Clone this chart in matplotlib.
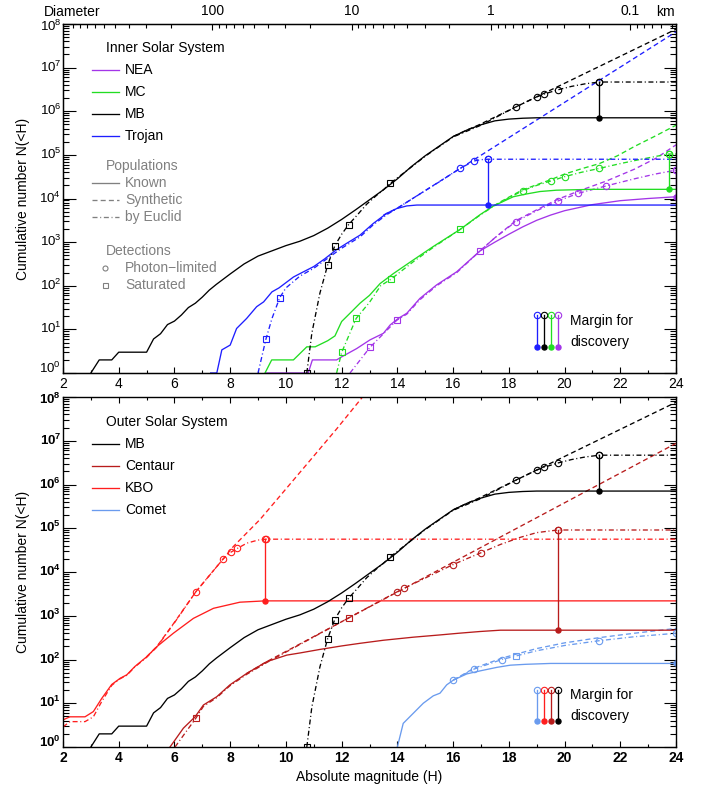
import numpy as np
import matplotlib
matplotlib.use('Agg')
import matplotlib.pyplot as plt
from matplotlib.ticker import FixedLocator, FixedFormatter, NullFormatter
from matplotlib import transforms as mtrans

plt.rcParams['font.family'] = ['Liberation Sans', 'DejaVu Sans']
plt.rcParams['mathtext.fontset'] = 'custom'
plt.rcParams['mathtext.rm'] = 'Liberation Sans'
plt.rcParams['mathtext.bf'] = 'Liberation Sans:bold'
plt.rcParams['mathtext.it'] = 'Liberation Sans:italic'
plt.rcParams['font.size'] = 10

# ---------------- colours ----------------
C_NEA = '#A335E8'
C_MC = '#22DD22'
C_MB = '#000000'
C_TRO = '#1E1EFF'
C_CEN = '#B81C1C'
C_KBO = '#FF1E1E'
C_COM = '#6A9BEE'
GRAY = '#808080'

# ---------------- data (H, log10 N) ----------------
# Main Belt (both panels)
mb_known_H = [3.0, 3.3, 3.75, 4.0, 5.0, 5.25, 5.5, 5.75, 6.0, 6.25, 6.5, 6.75, 7.0, 7.25, 7.5, 8.0, 8.5, 9.0, 9.5,
              10.0, 10.5, 11.0, 11.5, 12.0, 12.5, 13.0, 13.5, 14.0, 14.5, 15.0, 15.5, 16.0, 16.5, 17.0, 17.5,
              18.0, 18.5, 19.0, 24.0]
mb_known_logN = [0.0, 0.30, 0.30, 0.477, 0.477, 0.78, 0.9, 1.11, 1.19, 1.33, 1.5, 1.6, 1.74, 1.9, 2.03, 2.27, 2.5,
                 2.68, 2.8, 2.92, 3.02, 3.15, 3.32, 3.52, 3.74, 3.97, 4.2, 4.45, 4.73, 4.98, 5.2, 5.42, 5.57,
                 5.69, 5.78, 5.82, 5.84, 5.85, 5.85]
mb_syn_H = [16.0, 16.5, 16.9, 24.0]
mb_syn_logN = [5.42, 5.57, 5.68, 7.88]
mb_euc_H = [10.75, 10.93, 11.22, 11.5, 11.75, 12.0, 12.25, 12.6, 12.9, 13.25, 13.5, 13.75, 14.5, 15.0, 16.0,
            17.0, 18.25, 19.0, 19.25, 19.75, 20.25, 20.75, 21.25, 24.0]
mb_euc_logN = [0.0, 0.91, 1.83, 2.48, 2.91, 3.18, 3.4, 3.65, 3.87, 4.07, 4.2, 4.35, 4.72, 4.97, 5.41, 5.68,
               6.1, 6.33, 6.39, 6.49, 6.57, 6.63, 6.67, 6.67]
mb_sq_H = [10.75, 11.5, 11.75, 12.25, 13.75]
mb_sq_logN = [0.0, 2.48, 2.91, 3.4, 4.35]
mb_ci_H = [18.25, 19.0, 19.25, 19.75, 21.25]
mb_ci_logN = [6.1, 6.33, 6.39, 6.49, 6.67]

# Trojans
tro_known_H = [7.3, 7.52, 7.7, 8.0, 8.23, 8.59, 8.95, 9.2, 9.5, 9.75, 10.0, 10.27, 10.57, 11.0, 11.4, 11.8, 12.2,
               12.66, 13.14, 13.62, 13.98, 14.34, 14.7, 24.0]
tro_known_logN = [0.0, 0.0, 0.53, 0.64, 1.02, 1.25, 1.52, 1.63, 1.86, 1.95, 2.07, 2.2, 2.3, 2.44, 2.62, 2.82, 2.98,
                  3.16, 3.43, 3.66, 3.77, 3.83, 3.85, 3.85]
tro_syn_H = [13.5, 13.98, 24.0]
tro_syn_logN = [3.62, 3.77, 7.82]
tro_euc_H = [9.0, 9.28, 9.5, 9.78, 10.0, 10.5, 11.0, 11.5, 12.0, 12.66, 13.14, 13.62, 13.98, 14.5, 15.0, 15.5,
             16.25, 16.75, 17.0, 17.25, 24.0]
tro_euc_logN = [0.0, 0.77, 1.25, 1.73, 1.95, 2.22, 2.4, 2.63, 2.86, 3.12, 3.4, 3.63, 3.77, 3.98, 4.18, 4.38,
                4.69, 4.86, 4.89, 4.9, 4.9]
tro_sq_H = [9.28, 9.78]
tro_sq_logN = [0.77, 1.73]
tro_ci_H = [16.25, 16.75, 17.25]
tro_ci_logN = [4.69, 4.86, 4.9]

# Mars crossers
mc_known_H = [9.25, 9.49, 10.27, 10.75, 11.05, 11.5, 11.76, 12.0, 12.3, 12.66, 13.0, 13.38, 13.86, 14.57, 15.29,
              16.25, 16.97, 17.45, 17.69, 18.16, 18.6, 19.12, 19.7, 20.32, 21.0, 24.0]
mc_known_logN = [0.0, 0.30, 0.30, 0.6, 0.6, 0.74, 0.85, 1.18, 1.37, 1.6, 1.78, 2.05, 2.28, 2.59, 2.9, 3.29, 3.63,
                 3.83, 3.9, 4.04, 4.1, 4.16, 4.19, 4.2, 4.21, 4.21]
mc_syn_H = [17.45, 17.69, 18.0, 18.5, 19.5, 20.0, 20.6, 21.25, 21.9, 22.5, 23.25, 24.0]
mc_syn_logN = [3.83, 3.92, 4.03, 4.2, 4.43, 4.56, 4.68, 4.8, 4.98, 5.19, 5.43, 5.68]
mc_euc_H = [11.82, 12.0, 12.52, 13.0, 13.4, 13.77, 14.57, 15.29, 16.25, 16.97, 17.45, 17.9, 18.5, 19.0, 19.5,
            20.0, 20.6, 21.25, 22.0, 22.75, 23.4, 23.75, 24.0]
mc_euc_logN = [0.0, 0.47, 1.25, 1.62, 2.0, 2.15, 2.55, 2.88, 3.29, 3.62, 3.82, 3.98, 4.18, 4.3, 4.4, 4.5, 4.6,
               4.69, 4.8, 4.9, 4.98, 5.02, 5.02]
mc_sq_H = [12.0, 12.52, 13.77, 16.25]
mc_sq_logN = [0.47, 1.25, 2.15, 3.29]
mc_ci_H = [18.5, 19.5, 20.0, 21.25, 23.75]
mc_ci_logN = [4.18, 4.4, 4.5, 4.69, 5.02]

# Near-Earth asteroids
nea_known_H = [9.3, 10.8, 10.95, 11.82, 12.0, 12.54, 13.02, 13.5, 13.74, 14.03, 14.34, 14.81, 15.41, 16.13, 16.97,
               17.5, 18.0, 18.5, 19.0, 19.5, 20.0, 21.0, 22.0, 23.0, 24.0]
nea_known_logN = [0.0, 0.0, 0.30, 0.30, 0.37, 0.56, 0.76, 0.91, 1.1, 1.25, 1.37, 1.71, 2.02, 2.32, 2.8, 3.0, 3.18,
                  3.35, 3.5, 3.62, 3.72, 3.86, 3.95, 4.0, 4.04]
nea_syn_H = [16.97, 17.5, 18.25, 19.0, 19.75, 20.5, 21.5, 22.5, 23.3, 24.0]
nea_syn_logN = [2.8, 3.1, 3.49, 3.74, 3.98, 4.17, 4.4, 4.67, 4.93, 5.23]
nea_euc_H = [12.3, 13.02, 13.5, 13.98, 14.34, 14.81, 15.41, 16.13, 16.97, 17.5, 18.25, 19.0, 19.75, 20.5, 21.5,
             22.5, 23.25, 24.0]
nea_euc_logN = [0.0, 0.59, 0.9, 1.21, 1.35, 1.68, 2.0, 2.3, 2.8, 3.1, 3.47, 3.72, 3.94, 4.12, 4.29, 4.45, 4.56, 4.65]
nea_sq_H = [13.02, 13.98, 16.97]
nea_sq_logN = [0.59, 1.21, 2.8]
nea_ci_H = [18.25, 19.75, 20.5, 21.5, 24.0]
nea_ci_logN = [3.47, 3.94, 4.12, 4.29, 4.65]

# Centaurs
cen_known_H = [5.84, 6.02, 6.32, 6.74, 7.04, 7.52, 7.99, 8.59, 9.31, 10.03, 10.51, 11.22, 12.0, 12.66, 13.5,
               14.57, 15.5, 16.2, 16.97, 17.7, 24.0]
cen_known_logN = [0.0, 0.16, 0.43, 0.69, 0.96, 1.15, 1.42, 1.68, 1.95, 2.1, 2.15, 2.23, 2.31, 2.37, 2.44, 2.51,
                  2.56, 2.6, 2.64, 2.67, 2.67]
cen_syn_H = [8.59, 9.31, 24.0]
cen_syn_logN = [1.68, 1.95, 6.94]
cen_euc_H = [6.02, 6.77, 7.04, 7.52, 7.99, 8.59, 9.31, 12.25, 14.0, 14.25, 16.0, 17.0, 17.7, 18.4, 19.0, 19.75, 24.0]
cen_euc_logN = [0.0, 0.66, 0.93, 1.13, 1.4, 1.66, 1.93, 2.95, 3.55, 3.63, 4.17, 4.44, 4.63, 4.79, 4.9, 4.96, 4.96]
cen_sq_H = [6.77, 12.25]
cen_sq_logN = [0.66, 2.95]
cen_ci_H = [14.0, 14.25, 16.0, 17.0, 19.75]
cen_ci_logN = [3.55, 3.63, 4.17, 4.44, 4.96]

# Kuiper-belt objects
kbo_known_H = [2.0, 2.25, 2.79, 3.09, 3.39, 3.75, 4.05, 4.29, 4.58, 5.0, 5.36, 5.96, 6.68, 7.4, 8.35, 9.25, 24.0]
kbo_known_logN = [0.62, 0.69, 0.69, 0.81, 1.11, 1.43, 1.57, 1.65, 1.84, 2.06, 2.29, 2.6, 2.94, 3.17, 3.31, 3.34, 3.34]
kbo_syn_H = [5.0, 5.36, 6.0, 6.77, 7.75, 8.11, 9.07, 9.79, 10.8, 11.82, 12.75]
kbo_syn_logN = [2.06, 2.29, 2.85, 3.55, 4.3, 4.58, 5.2, 5.74, 6.5, 7.27, 8.0]
kbo_euc_H = [2.0, 2.25, 2.79, 3.09, 3.39, 3.75, 4.05, 4.29, 4.58, 5.0, 5.36, 6.0, 6.77, 7.75, 8.02, 8.26, 8.6,
             9.0, 9.28, 24.0]
kbo_euc_logN = [0.46, 0.58, 0.58, 0.69, 1.04, 1.41, 1.56, 1.64, 1.83, 2.05, 2.28, 2.84, 3.55, 4.3, 4.45, 4.54,
                4.66, 4.73, 4.75, 4.75]
kbo_ci_H = [6.77, 7.75, 8.02, 8.26, 9.28]
kbo_ci_logN = [3.55, 4.3, 4.45, 4.54, 4.75]

# Comets
com_known_H = [14.0, 14.21, 14.57, 14.93, 15.29, 15.53, 15.77, 16.01, 16.49, 16.97, 17.57, 18.05, 18.6, 19.5, 24.0]
com_known_logN = [0.0, 0.54, 0.77, 1.0, 1.17, 1.23, 1.42, 1.53, 1.67, 1.74, 1.82, 1.87, 1.89, 1.91, 1.91]
com_syn_H = [16.01, 16.75, 17.75, 18.25, 19.0, 20.0, 21.25, 22.5, 24.0]
com_syn_logN = [1.53, 1.8, 2.03, 2.12, 2.25, 2.38, 2.5, 2.6, 2.71]
com_euc_H = [16.01, 16.75, 17.75, 18.25, 19.0, 20.0, 21.25, 22.5, 24.0]
com_euc_logN = [1.53, 1.78, 2.0, 2.08, 2.2, 2.32, 2.43, 2.52, 2.6]
com_sq_H = [18.25]
com_sq_logN = [2.08]
com_ci_H = [16.01, 16.75, 17.75, 21.25]
com_ci_logN = [1.53, 1.78, 2.0, 2.43]

# Margins for discovery (H, known level, Euclid level)
inner_margin_H = [21.25, 17.25, 23.75, 24.0]
inner_margin_known = [5.85, 3.85, 4.21, 4.04]
inner_margin_euc = [6.67, 4.9, 5.02, 4.65]
inner_margin_col = [C_MB, C_TRO, C_MC, C_NEA]
outer_margin_H = [21.25, 9.25, 19.75, 24.0]
outer_margin_known = [5.85, 3.34, 2.67, 1.91]
outer_margin_euc = [6.67, 4.75, 4.96, 2.6]
outer_margin_col = [C_MB, C_KBO, C_CEN, C_COM]

# axis tick values
x_major = list(range(2, 25, 2))
x_minor = list(range(3, 24, 2))
y_decades = list(range(0, 9))
diam_major = [100, 10, 1, 0.1]
diam_major_labels = ['100', '10', '1', '0.1']
diam_minor = [1000, 900, 800, 700, 600, 500, 400, 300, 200, 90, 80, 70, 60, 50, 40, 30, 20,
              9, 8, 7, 6, 5, 4, 3, 2, 0.9, 0.8, 0.7, 0.6, 0.5, 0.4, 0.3, 0.2, 0.09, 0.08, 0.07, 0.06, 0.05]
ALBEDO = 0.2

# ---------------- styles ----------------
LW = 0.95
DASH = (0, (3.8, 2.4))
DASHDOT = (0, (3.8, 2.0, 0.8, 2.0))
MS = 4.6


def N(v):
    return 10.0 ** np.asarray(v, dtype=float)


def curve(ax, H, logN, color, ls):
    ax.plot(H, N(logN), color=color, ls=ls, lw=LW)


def marks(ax, H, logN, color, marker):
    ax.plot(H, N(logN), ls='none', marker=marker, mfc='none', mec=color, ms=MS, mew=0.8)


def margins(ax, Hs, known, euc, cols):
    for h, k, e, c in zip(Hs, known, euc, cols):
        ax.plot([h, h], [10.0 ** k, 10.0 ** e], color=c, lw=LW)
        ax.plot([h], [10.0 ** k], marker='o', color=c, ms=3.6, ls='none')
        ax.plot([h], [10.0 ** e], marker='o', mfc='none', mec=c, ms=MS, mew=0.8, ls='none')


def d2h(D):
    return 5.0 * np.log10(1329.0 / np.sqrt(ALBEDO) / np.asarray(D, dtype=float))


def setup(ax, bold, top_ticks):
    ax.set_xlim(2, 24)
    ax.set_yscale('log')
    ax.set_ylim(1, 1e8)
    ax.xaxis.set_major_locator(FixedLocator(x_major))
    ax.xaxis.set_minor_locator(FixedLocator(x_minor))
    ax.yaxis.set_major_locator(FixedLocator(N(y_decades)))
    ax.yaxis.set_minor_locator(FixedLocator([m * 10.0 ** k for k in y_decades[:-1] for m in range(2, 10)]))
    ax.yaxis.set_major_formatter(NullFormatter())
    ax.yaxis.set_minor_formatter(NullFormatter())
    ax.xaxis.set_major_formatter(FixedFormatter([str(v) for v in x_major]))
    ax.tick_params(axis='y', which='major', direction='in', length=9, width=0.8, left=True, right=True)
    ax.tick_params(axis='y', which='minor', direction='in', length=4.5, width=0.8, left=True, right=True)
    ax.tick_params(axis='x', which='major', direction='in', length=4.5, width=0.8, bottom=True, top=top_ticks,
                   pad=3, labelsize=10)
    ax.tick_params(axis='x', which='minor', direction='in', length=2.4, width=0.8, bottom=True, top=top_ticks)
    if bold:
        for t in ax.get_xticklabels():
            t.set_fontweight('bold')
    for s in ax.spines.values():
        s.set_linewidth(1.0)
    # y tick labels (10^k), base of "10" centred on the tick, end labels kept inside
    blend = mtrans.blended_transform_factory(ax.transAxes, ax.transData)
    for k in y_decades:
        if k == y_decades[-1]:
            dy = -5.0
        elif k == y_decades[0]:
            dy = 0.0
        else:
            dy = -2.9
        tr = mtrans.offset_copy(blend, fig=ax.figure, x=0, y=dy, units='points')
        lab = (r'$\mathbf{10^{%d}}$' % k) if bold else (r'$10^{%d}$' % k)
        ax.text(-0.003, 10.0 ** k, lab, transform=tr, ha='right', va='baseline', fontsize=9.5)


W, Hpx = 712, 789
fig = plt.figure(figsize=(W / 100, Hpx / 100), dpi=100)
ax1 = fig.add_axes([63 / W, 1 - 373 / Hpx, 613 / W, 349 / Hpx])
ax2 = fig.add_axes([63 / W, 1 - 747 / Hpx, 613 / W, 350 / Hpx])
setup(ax1, False, False)
setup(ax2, True, True)

# ---------------- top panel ----------------
for kH, kN, sH, sN, eH, eN, col in [
        (nea_known_H, nea_known_logN, nea_syn_H, nea_syn_logN, nea_euc_H, nea_euc_logN, C_NEA),
        (mc_known_H, mc_known_logN, mc_syn_H, mc_syn_logN, mc_euc_H, mc_euc_logN, C_MC),
        (tro_known_H, tro_known_logN, tro_syn_H, tro_syn_logN, tro_euc_H, tro_euc_logN, C_TRO),
        (mb_known_H, mb_known_logN, mb_syn_H, mb_syn_logN, mb_euc_H, mb_euc_logN, C_MB)]:
    curve(ax1, kH, kN, col, '-')
    curve(ax1, sH, sN, col, DASH)
    curve(ax1, eH, eN, col, DASHDOT)
for sqH, sqN, ciH, ciN, col in [
        (nea_sq_H, nea_sq_logN, nea_ci_H, nea_ci_logN, C_NEA),
        (mc_sq_H, mc_sq_logN, mc_ci_H, mc_ci_logN, C_MC),
        (tro_sq_H, tro_sq_logN, tro_ci_H, tro_ci_logN, C_TRO),
        (mb_sq_H, mb_sq_logN, mb_ci_H, mb_ci_logN, C_MB)]:
    marks(ax1, sqH, sqN, col, 's')
    marks(ax1, ciH, ciN, col, 'o')
margins(ax1, inner_margin_H, inner_margin_known, inner_margin_euc, inner_margin_col)

# ---------------- bottom panel ----------------
for kH, kN, sH, sN, eH, eN, col in [
        (com_known_H, com_known_logN, com_syn_H, com_syn_logN, com_euc_H, com_euc_logN, C_COM),
        (cen_known_H, cen_known_logN, cen_syn_H, cen_syn_logN, cen_euc_H, cen_euc_logN, C_CEN),
        (kbo_known_H, kbo_known_logN, kbo_syn_H, kbo_syn_logN, kbo_euc_H, kbo_euc_logN, C_KBO),
        (mb_known_H, mb_known_logN, mb_syn_H, mb_syn_logN, mb_euc_H, mb_euc_logN, C_MB)]:
    curve(ax2, kH, kN, col, '-')
    curve(ax2, sH, sN, col, DASH)
    curve(ax2, eH, eN, col, DASHDOT)
marks(ax2, com_sq_H, com_sq_logN, C_COM, 's')
marks(ax2, com_ci_H, com_ci_logN, C_COM, 'o')
marks(ax2, cen_sq_H, cen_sq_logN, C_CEN, 's')
marks(ax2, cen_ci_H, cen_ci_logN, C_CEN, 'o')
marks(ax2, kbo_ci_H, kbo_ci_logN, C_KBO, 'o')
marks(ax2, mb_sq_H, mb_sq_logN, C_MB, 's')
marks(ax2, mb_ci_H, mb_ci_logN, C_MB, 'o')
margins(ax2, outer_margin_H, outer_margin_known, outer_margin_euc, outer_margin_col)

# ---------------- diameter axis ----------------
axt = ax1.twiny()
axt.set_xlim(2, 24)
axt.xaxis.set_major_locator(FixedLocator(d2h(diam_major)))
axt.xaxis.set_major_formatter(FixedFormatter(diam_major_labels))
axt.xaxis.set_minor_locator(FixedLocator([h for h in d2h(diam_minor) if 2 <= h <= 24]))
axt.tick_params(axis='x', which='major', direction='in', length=4.5, width=0.8, pad=4, labelsize=10)
axt.tick_params(axis='x', which='minor', direction='in', length=2.6, width=0.8)
ax1.text(0.0147, 1.0 + 11.5 / 349, 'Diameter', transform=ax1.transAxes, ha='center', va='center', fontsize=10)
ax1.text(0.982, 1.0 + 11.5 / 349, 'km', transform=ax1.transAxes, ha='center', va='center', fontsize=10)

# ---------------- legends ----------------
def leg_line(ax, y, color, ls, label, tcolor='black'):
    ax.plot([0.047, 0.091], [y, y], transform=ax.transAxes, color=color, ls=ls, lw=LW, clip_on=False)
    ax.text(0.101, y, label, transform=ax.transAxes, ha='left', va='center', color=tcolor, fontsize=10)


ax1.text(0.070, 0.931, 'Inner Solar System', transform=ax1.transAxes, ha='left', va='center', fontsize=10)
for y, c, lab in zip([0.868, 0.805, 0.742, 0.679], [C_NEA, C_MC, C_MB, C_TRO], ['NEA', 'MC', 'MB', 'Trojan']):
    leg_line(ax1, y, c, '-', lab)
ax1.text(0.070, 0.593, 'Populations', transform=ax1.transAxes, ha='left', va='center', color=GRAY, fontsize=10)
leg_line(ax1, 0.544, GRAY, '-', 'Known', GRAY)
leg_line(ax1, 0.496, GRAY, DASH, 'Synthetic', GRAY)
leg_line(ax1, 0.447, GRAY, DASHDOT, 'by Euclid', GRAY)
ax1.text(0.070, 0.350, 'Detections', transform=ax1.transAxes, ha='left', va='center', color=GRAY, fontsize=10)
ax1.plot([0.0685], [0.301], transform=ax1.transAxes, marker='o', mfc='none', mec=GRAY, ms=3.6, mew=0.8)
ax1.plot([0.0685], [0.252], transform=ax1.transAxes, marker='s', mfc='none', mec=GRAY, ms=3.6, mew=0.8)
ax1.text(0.101, 0.301, 'Photon\u2212limited', transform=ax1.transAxes, ha='left', va='center', color=GRAY,
         fontsize=10)
ax1.text(0.101, 0.252, 'Saturated', transform=ax1.transAxes, ha='left', va='center', color=GRAY, fontsize=10)

ax2.text(0.070, 0.928, 'Outer Solar System', transform=ax2.transAxes, ha='left', va='center', fontsize=10)
for y, c, lab in zip([0.866, 0.803, 0.740, 0.677], [C_MB, C_CEN, C_KBO, C_COM], ['MB', 'Centaur', 'KBO', 'Comet']):
    leg_line(ax2, y, c, '-', lab)


def margin_legend(ax, cols, ytop, ybot, yt1, yt2):
    for x, c in zip([0.773, 0.784, 0.796, 0.807], cols):
        ax.plot([x, x], [ytop, ybot], transform=ax.transAxes, color=c, lw=LW)
        ax.plot([x], [ybot], transform=ax.transAxes, marker='o', color=c, ms=3.6)
        ax.plot([x], [ytop], transform=ax.transAxes, marker='o', mfc='none', mec=c, ms=MS, mew=0.8)
    ax.text(0.827, yt1, 'Margin for', transform=ax.transAxes, ha='left', va='center', fontsize=10)
    ax.text(0.827, yt2, 'discovery', transform=ax.transAxes, ha='left', va='center', fontsize=10)


margin_legend(ax1, [C_TRO, C_MB, C_MC, C_NEA], 0.166, 0.075, 0.149, 0.090)
margin_legend(ax2, [C_COM, C_KBO, C_CEN, C_MB], 0.163, 0.075, 0.149, 0.089)

# ---------------- axis labels ----------------
fig.text(22.7 / W, 1 - 198.5 / Hpx, 'Cumulative number N(<H)', rotation=90, ha='center', va='center', fontsize=10)
fig.text(22.7 / W, 1 - 572 / Hpx, 'Cumulative number N(<H)', rotation=90, ha='center', va='center', fontsize=10)
fig.text(369.5 / W, 1 - 776.7 / Hpx, 'Absolute magnitude (H)', ha='center', va='center', fontsize=10)

fig.savefig('out.png', dpi=100)
